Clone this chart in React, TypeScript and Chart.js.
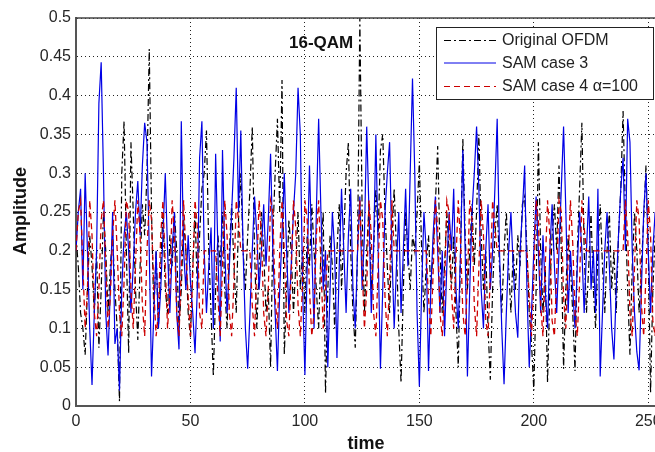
import React, { useEffect, useRef } from "react";
import { Chart, registerables } from "chart.js";

Chart.register(...registerables);

// ---------- data ----------
const xTicks = [0, 50, 100, 150, 200, 250];
const yTicks = [0, 0.05, 0.1, 0.15, 0.2, 0.25, 0.3, 0.35, 0.4, 0.45, 0.5];
const X_MAX = 256;
const Y_MAX = 0.5;

const originalOFDM = [
  0.22, 0.18, 0.12, 0.10, 0.066, 0.15, 0.22, 0.18, 0.12, 0.20,
  0.075, 0.15, 0.25, 0.20, 0.12, 0.18, 0.22, 0.15, 0.10, 0.006,
  0.30, 0.367, 0.20, 0.068, 0.34, 0.25, 0.15, 0.085, 0.18, 0.26,
  0.22, 0.30, 0.46, 0.25, 0.12, 0.20, 0.10, 0.18, 0.25, 0.15,
  0.12, 0.22, 0.18, 0.25, 0.20, 0.10, 0.15, 0.24, 0.20, 0.12,
  0.088, 0.18, 0.25, 0.15, 0.22, 0.28, 0.30, 0.355, 0.20, 0.12,
  0.038, 0.15, 0.22, 0.18, 0.25, 0.15, 0.10, 0.20, 0.26, 0.18,
  0.12, 0.24, 0.30, 0.20, 0.15, 0.22, 0.28, 0.36, 0.20, 0.10,
  0.18, 0.25, 0.20, 0.12, 0.15, 0.05, 0.22, 0.30, 0.37, 0.25,
  0.42, 0.066, 0.15, 0.24, 0.20, 0.12, 0.18, 0.25, 0.15, 0.20,
  0.12, 0.22, 0.18, 0.26, 0.20, 0.15, 0.10, 0.20, 0.25, 0.016,
  0.15, 0.22, 0.18, 0.10, 0.20, 0.26, 0.15, 0.22, 0.30, 0.34,
  0.20, 0.12, 0.075, 0.20, 0.50, 0.25, 0.12, 0.20, 0.26, 0.15,
  0.20, 0.28, 0.22, 0.33, 0.35, 0.25, 0.18, 0.12, 0.22, 0.28,
  0.20, 0.10, 0.03, 0.15, 0.25, 0.20, 0.15, 0.22, 0.20, 0.25,
  0.315, 0.20, 0.12, 0.18, 0.22, 0.15, 0.20, 0.26, 0.335, 0.20,
  0.12, 0.18, 0.25, 0.20, 0.15, 0.22, 0.12, 0.05, 0.20, 0.345,
  0.22, 0.15, 0.20, 0.26, 0.18, 0.25, 0.35, 0.22, 0.15, 0.20,
  0.10, 0.034, 0.15, 0.22, 0.26, 0.18, 0.12, 0.20, 0.25, 0.18,
  0.12, 0.20, 0.15, 0.22, 0.18, 0.26, 0.27, 0.20, 0.12, 0.08,
  0.02, 0.15, 0.34, 0.20, 0.12, 0.18, 0.03, 0.15, 0.22, 0.26,
  0.20, 0.31, 0.20, 0.048, 0.15, 0.22, 0.18, 0.12, 0.045, 0.20,
  0.28, 0.365, 0.20, 0.12, 0.18, 0.25, 0.15, 0.10, 0.20, 0.26,
  0.18, 0.12, 0.20, 0.25, 0.15, 0.20, 0.12, 0.22, 0.28, 0.38,
  0.25, 0.15, 0.066, 0.18, 0.25, 0.20, 0.12, 0.18, 0.24, 0.31,
  0.20, 0.017, 0.15, 0.22, 0.18, 0.25, 0.20,
];

const samCase3 = [
  0.20, 0.25, 0.28, 0.15, 0.30, 0.20, 0.10, 0.027, 0.12, 0.20,
  0.39, 0.443, 0.30, 0.12, 0.065, 0.15, 0.25, 0.08, 0.10, 0.02,
  0.15, 0.22, 0.25, 0.20, 0.12, 0.18, 0.25, 0.29, 0.22, 0.31,
  0.365, 0.34, 0.20, 0.038, 0.12, 0.20, 0.10, 0.15, 0.22, 0.30,
  0.20, 0.12, 0.20, 0.25, 0.12, 0.073, 0.367, 0.20, 0.15, 0.22,
  0.16, 0.12, 0.068, 0.15, 0.32, 0.367, 0.20, 0.12, 0.18, 0.23,
  0.10, 0.325, 0.20, 0.083, 0.33, 0.20, 0.12, 0.18, 0.25, 0.32,
  0.41, 0.25, 0.355, 0.20, 0.10, 0.048, 0.12, 0.20, 0.27, 0.22,
  0.15, 0.20, 0.26, 0.18, 0.24, 0.325, 0.20, 0.12, 0.045, 0.15,
  0.22, 0.30, 0.20, 0.12, 0.18, 0.25, 0.30, 0.41, 0.35, 0.15,
  0.04, 0.18, 0.31, 0.20, 0.10, 0.25, 0.37, 0.25, 0.15, 0.20,
  0.05, 0.15, 0.25, 0.20, 0.062, 0.18, 0.28, 0.20, 0.12, 0.22,
  0.28, 0.15, 0.10, 0.20, 0.27, 0.15, 0.22, 0.36, 0.25, 0.12,
  0.20, 0.35, 0.20, 0.048, 0.15, 0.25, 0.30, 0.34, 0.20, 0.10,
  0.18, 0.25, 0.12, 0.20, 0.28, 0.18, 0.30, 0.422, 0.30, 0.12,
  0.025, 0.15, 0.25, 0.20, 0.045, 0.15, 0.22, 0.27, 0.20, 0.12,
  0.20, 0.09, 0.18, 0.25, 0.20, 0.28, 0.15, 0.10, 0.20, 0.33,
  0.20, 0.038, 0.15, 0.25, 0.30, 0.36, 0.28, 0.15, 0.10, 0.20,
  0.26, 0.15, 0.20, 0.28, 0.37, 0.20, 0.10, 0.028, 0.12, 0.20,
  0.25, 0.18, 0.12, 0.088, 0.20, 0.25, 0.31, 0.15, 0.05, 0.12,
  0.20, 0.27, 0.20, 0.12, 0.22, 0.15, 0.10, 0.20, 0.26, 0.18,
  0.12, 0.20, 0.28, 0.36, 0.25, 0.12, 0.20, 0.15, 0.10, 0.18,
  0.25, 0.20, 0.12, 0.20, 0.27, 0.15, 0.20, 0.12, 0.28, 0.038,
  0.12, 0.20, 0.25, 0.18, 0.10, 0.06, 0.15, 0.22, 0.28, 0.32,
  0.20, 0.37, 0.34, 0.20, 0.12, 0.07, 0.046, 0.15, 0.25, 0.30,
  0.20, 0.12, 0.20, 0.25, 0.15, 0.20, 0.18,
];

const samCase4 = [
  0.20, 0.25, 0.265, 0.18, 0.10, 0.15, 0.265, 0.22, 0.12, 0.09,
  0.15, 0.24, 0.265, 0.18, 0.10, 0.14, 0.22, 0.265, 0.20, 0.12,
  0.09, 0.16, 0.265, 0.25, 0.15, 0.10, 0.18, 0.265, 0.22, 0.13,
  0.09, 0.20, 0.265, 0.24, 0.15, 0.09, 0.12, 0.22, 0.265, 0.18,
  0.10, 0.15, 0.265, 0.22, 0.12, 0.09, 0.18, 0.265, 0.20, 0.14,
  0.09, 0.17, 0.265, 0.23, 0.12, 0.10, 0.20, 0.20, 0.20, 0.20,
  0.20, 0.20, 0.14, 0.09, 0.18, 0.265, 0.22, 0.12, 0.09, 0.16,
  0.265, 0.24, 0.20, 0.20, 0.20, 0.20, 0.20, 0.13, 0.09, 0.18,
  0.265, 0.22, 0.12, 0.09, 0.15, 0.265, 0.25, 0.14, 0.10, 0.20,
  0.265, 0.20, 0.11, 0.09, 0.17, 0.265, 0.23, 0.13, 0.09, 0.16,
  0.265, 0.24, 0.15, 0.09, 0.12, 0.22, 0.265, 0.18, 0.10, 0.15,
  0.20, 0.20, 0.20, 0.20, 0.20, 0.20, 0.20, 0.20, 0.20, 0.20,
  0.20, 0.20, 0.20, 0.20, 0.265, 0.18, 0.10, 0.15, 0.265, 0.22,
  0.12, 0.09, 0.18, 0.265, 0.24, 0.14, 0.09, 0.16, 0.265, 0.20,
  0.20, 0.20, 0.20, 0.20, 0.20, 0.20, 0.20, 0.20, 0.20, 0.20,
  0.20, 0.20, 0.20, 0.20, 0.14, 0.09, 0.17, 0.265, 0.23, 0.12,
  0.09, 0.15, 0.265, 0.25, 0.15, 0.10, 0.19, 0.265, 0.21, 0.12,
  0.09, 0.16, 0.265, 0.24, 0.13, 0.09, 0.18, 0.265, 0.22, 0.11,
  0.09, 0.17, 0.265, 0.23, 0.20, 0.20, 0.20, 0.20, 0.20, 0.20,
  0.20, 0.20, 0.20, 0.20, 0.20, 0.20, 0.20, 0.20, 0.14, 0.09,
  0.16, 0.265, 0.24, 0.13, 0.09, 0.18, 0.265, 0.22, 0.11, 0.09,
  0.17, 0.265, 0.25, 0.14, 0.10, 0.19, 0.265, 0.21, 0.12, 0.09,
  0.16, 0.265, 0.23, 0.20, 0.20, 0.20, 0.20, 0.20, 0.20, 0.20,
  0.20, 0.20, 0.20, 0.20, 0.20, 0.20, 0.20, 0.20, 0.20, 0.20,
  0.265, 0.22, 0.12, 0.09, 0.18, 0.265, 0.24, 0.13, 0.09, 0.17,
  0.265, 0.22, 0.11, 0.09, 0.16, 0.265, 0.20,
];

const seriesLabels = ["Original OFDM", "SAM case 3", "SAM case 4 \u03B1=100"];
const chartTitle = "16-QAM";
const xTitle = "time";
const yTitle = "Amplitude";

// ---------- styles ----------
const FONT = "'Liberation Sans', Arial, Helvetica, sans-serif";
const CANVAS_W = 690;
const CANVAS_H = 452;
const PLOT_LEFT = 76;
const PLOT_TOP = 18;
const PLOT_BOTTOM = 406;
const PLOT_RIGHT = 662;
const COLORS = ["#000000", "#0000e6", "#cc0000"];
const WIDTHS = [1.2, 1.2, 1.3];
const DASHES = [[7, 3, 2, 3], [], [6, 4]];

const toPoints = (arr: number[]) => arr.map((y, i) => ({ x: i, y }));

const decorPlugin = {
  id: "decor",
  afterDraw(chart: any) {
    const ctx = chart.ctx as CanvasRenderingContext2D;
    const area = chart.chartArea;
    ctx.save();
    // top frame line
    ctx.strokeStyle = "#444";
    ctx.lineWidth = 1.5;
    ctx.setLineDash([]);
    ctx.beginPath();
    ctx.moveTo(area.left, area.top);
    ctx.lineTo(area.right, area.top);
    ctx.stroke();

    // chart title inside plot
    ctx.fillStyle = "#111";
    ctx.font = `bold 17px ${FONT}`;
    ctx.textAlign = "left";
    ctx.textBaseline = "alphabetic";
    ctx.fillText(chartTitle, 289, 48);

    // axis titles
    ctx.font = `bold 18px ${FONT}`;
    ctx.textAlign = "center";
    ctx.fillText(xTitle, 366, 449);
    ctx.save();
    ctx.translate(26, 211);
    ctx.rotate(-Math.PI / 2);
    ctx.textBaseline = "alphabetic";
    ctx.fillText(yTitle, 0, 0);
    ctx.restore();

    // legend box
    const bx = 436.5, by = 27.5, bw = 217, bh = 72;
    ctx.fillStyle = "#fff";
    ctx.fillRect(bx, by, bw, bh);
    ctx.strokeStyle = "#222";
    ctx.lineWidth = 1;
    ctx.strokeRect(bx, by, bw, bh);
    const rows = [40, 62.5, 86];
    ctx.font = `16px ${FONT}`;
    ctx.textAlign = "left";
    ctx.textBaseline = "middle";
    seriesLabels.forEach((lab, i) => {
      ctx.strokeStyle = COLORS[i];
      ctx.lineWidth = 1;
      ctx.setLineDash(DASHES[i]);
      ctx.beginPath();
      ctx.moveTo(444, rows[i] + 0.5);
      ctx.lineTo(496, rows[i] + 0.5);
      ctx.stroke();
      ctx.setLineDash([]);
      ctx.fillStyle = "#222";
      ctx.fillText(lab, 502, rows[i] + 1);
    });
    ctx.restore();
  },
};

export default function App() {
  const canvasRef = useRef<HTMLCanvasElement>(null);

  useEffect(() => {
    document.body.style.margin = "0";
    const canvas = canvasRef.current;
    if (!canvas) return;
    const allSeries = [originalOFDM, samCase3, samCase4];
    const orders = [2, 1, 0];
    const chart = new Chart(canvas, {
      type: "line",
      data: {
        datasets: allSeries.map((arr, i) => ({
          label: seriesLabels[i],
          data: toPoints(arr),
          borderColor: COLORS[i],
          backgroundColor: COLORS[i],
          borderWidth: WIDTHS[i],
          borderDash: DASHES[i],
          pointRadius: 0,
          tension: 0,
          fill: false,
          order: orders[i],
        })),
      },
      options: {
        responsive: false,
        animation: false,
        devicePixelRatio: 1,
        layout: {
          padding: { left: 0, top: PLOT_TOP, right: CANVAS_W - PLOT_RIGHT, bottom: 0 },
        },
        plugins: {
          legend: { display: false },
          tooltip: { enabled: false },
          title: { display: false },
        },
        scales: {
          x: {
            type: "linear",
            min: 0,
            max: X_MAX,
            afterBuildTicks: (s: any) => {
              s.ticks = xTicks.map((v) => ({ value: v }));
            },
            afterFit: (s: any) => {
              s.height = CANVAS_H - PLOT_BOTTOM;
            },
            ticks: {
              color: "#262626",
              font: { family: FONT, size: 16 },
              padding: 6,
              maxRotation: 0,
              autoSkip: false,
              callback: (v: any) => String(v),
            },
            grid: { color: "#222", lineWidth: 1, drawTicks: false },
            border: { display: true, color: "#555", width: 2, dash: [1, 3] },
          },
          y: {
            type: "linear",
            min: 0,
            max: Y_MAX,
            afterBuildTicks: (s: any) => {
              s.ticks = yTicks.map((v) => ({ value: v }));
            },
            afterFit: (s: any) => {
              s.width = PLOT_LEFT;
            },
            ticks: {
              color: "#262626",
              font: { family: FONT, size: 16 },
              padding: 5,
              autoSkip: false,
              callback: (v: any) => String(Number(Number(v).toFixed(2))),
            },
            grid: { color: "#222", lineWidth: 1, drawTicks: false },
            border: { display: true, color: "#555", width: 2, dash: [1, 3] },
          },
        },
      },
      plugins: [decorPlugin],
    });
    return () => chart.destroy();
  }, []);

  return (
    <div
      style={{
        position: "fixed",
        left: 0,
        top: 0,
        width: 655,
        height: 452,
        overflow: "hidden",
        background: "#fff",
      }}
    >
      <canvas
        ref={canvasRef}
        width={CANVAS_W}
        height={CANVAS_H}
        style={{ width: CANVAS_W, height: CANVAS_H, display: "block" }}
      />
    </div>
  );
}
